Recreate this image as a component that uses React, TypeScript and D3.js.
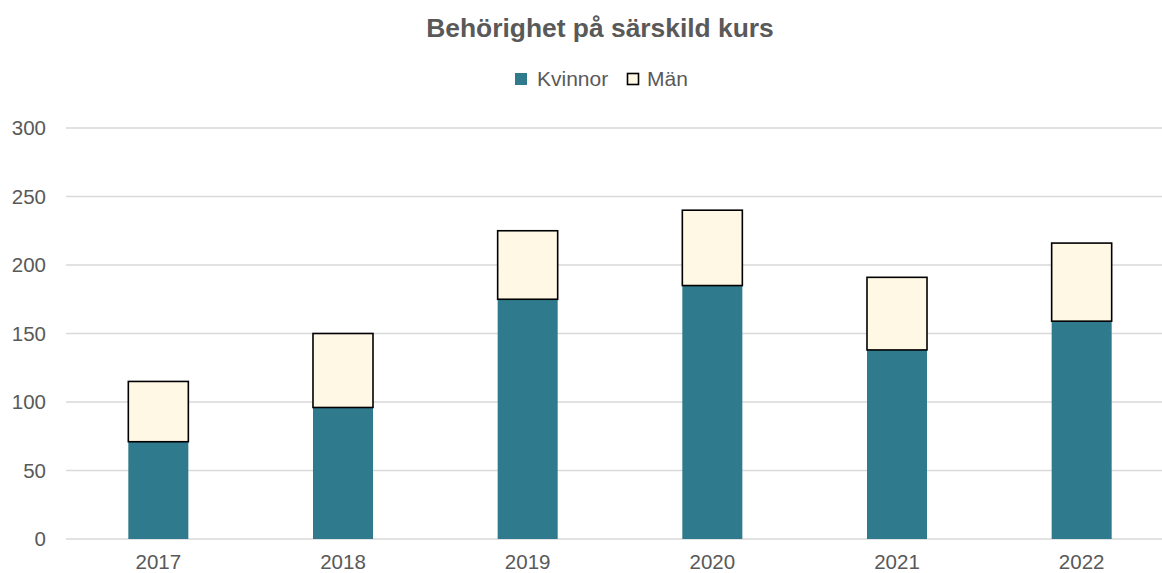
import React, { useEffect, useRef } from "react";
import * as d3 from "d3";

const years = ["2017", "2018", "2019", "2020", "2021", "2022"];
const kvinnor = [71, 96, 175, 185, 138, 159];
const man = [44, 54, 50, 55, 53, 57];
const yTicks = [0, 50, 100, 150, 200, 250, 300];

const W = 1162;
const H = 573;

export default function App() {
  const ref = useRef<SVGSVGElement>(null);

  useEffect(() => {
    const svg = d3.select(ref.current);
    svg.selectAll("*").remove();

    const font = "'Liberation Sans', Arial, sans-serif";
    const textCol = "#595959";

    const x = d3.scaleBand().domain(years).range([66, 1174]);
    const y = d3.scaleLinear().domain([0, 300]).range([539, 128]);
    const barW = x.bandwidth() * 0.325;

    // title
    svg.append("text")
      .attr("x", W / 2 + 19)
      .attr("y", 37)
      .attr("text-anchor", "middle")
      .attr("fill", textCol)
      .style("font-family", font)
      .style("font-size", "26.4px")
      .style("font-weight", "bold")
      .text("Behörighet på särskild kurs");

    // legend
    const leg = svg.append("g");
    leg.append("rect").attr("x", 515).attr("y", 73).attr("width", 12).attr("height", 12).attr("fill", "#2F7A8D");
    leg.append("text").attr("x", 537).attr("y", 86).attr("fill", textCol)
      .style("font-family", font).style("font-size", "21px").text("Kvinnor");
    leg.append("rect").attr("x", 627.5).attr("y", 73.5).attr("width", 11).attr("height", 11)
      .attr("fill", "#FFF8E5").attr("stroke", "#000").attr("stroke-width", 1.6);
    leg.append("text").attr("x", 647).attr("y", 86).attr("fill", textCol)
      .style("font-family", font).style("font-size", "21px").text("Män");

    // gridlines
    svg.append("g").selectAll("line").data(yTicks).join("line")
      .attr("x1", 66).attr("x2", 1174)
      .attr("y1", (d) => y(d)).attr("y2", (d) => y(d))
      .attr("stroke", "#d9d9d9").attr("stroke-width", 1.3);

    // y labels
    svg.append("g").selectAll("text").data(yTicks).join("text")
      .attr("x", 46).attr("y", (d) => y(d) + 7)
      .attr("text-anchor", "end").attr("fill", textCol)
      .style("font-family", font).style("font-size", "20.5px")
      .text((d) => d);

    // x labels
    svg.append("g").selectAll("text").data(years).join("text")
      .attr("x", (d) => x(d)! + x.bandwidth() / 2).attr("y", 569)
      .attr("text-anchor", "middle").attr("fill", textCol)
      .style("font-family", font).style("font-size", "20.5px")
      .text((d) => d);

    // Kvinnor bars
    svg.append("g").selectAll("rect").data(years).join("rect")
      .attr("x", (d) => x(d)! + (x.bandwidth() - barW) / 2)
      .attr("width", barW)
      .attr("y", (d, i) => y(kvinnor[i]))
      .attr("height", (d, i) => y(0) - y(kvinnor[i]))
      .attr("fill", "#2F7A8D");

    // Män bars
    svg.append("g").selectAll("rect").data(years).join("rect")
      .attr("x", (d) => x(d)! + (x.bandwidth() - barW) / 2)
      .attr("width", barW)
      .attr("y", (d, i) => y(kvinnor[i] + man[i]))
      .attr("height", (d, i) => y(kvinnor[i]) - y(kvinnor[i] + man[i]))
      .attr("fill", "#FFF8E5")
      .attr("stroke", "#000")
      .attr("stroke-width", 1.6);
  }, []);

  return (
    <svg
      ref={ref}
      width={W}
      height={H}
      style={{ position: "absolute", left: 0, top: 0, background: "#fff" }}
    />
  );
}
